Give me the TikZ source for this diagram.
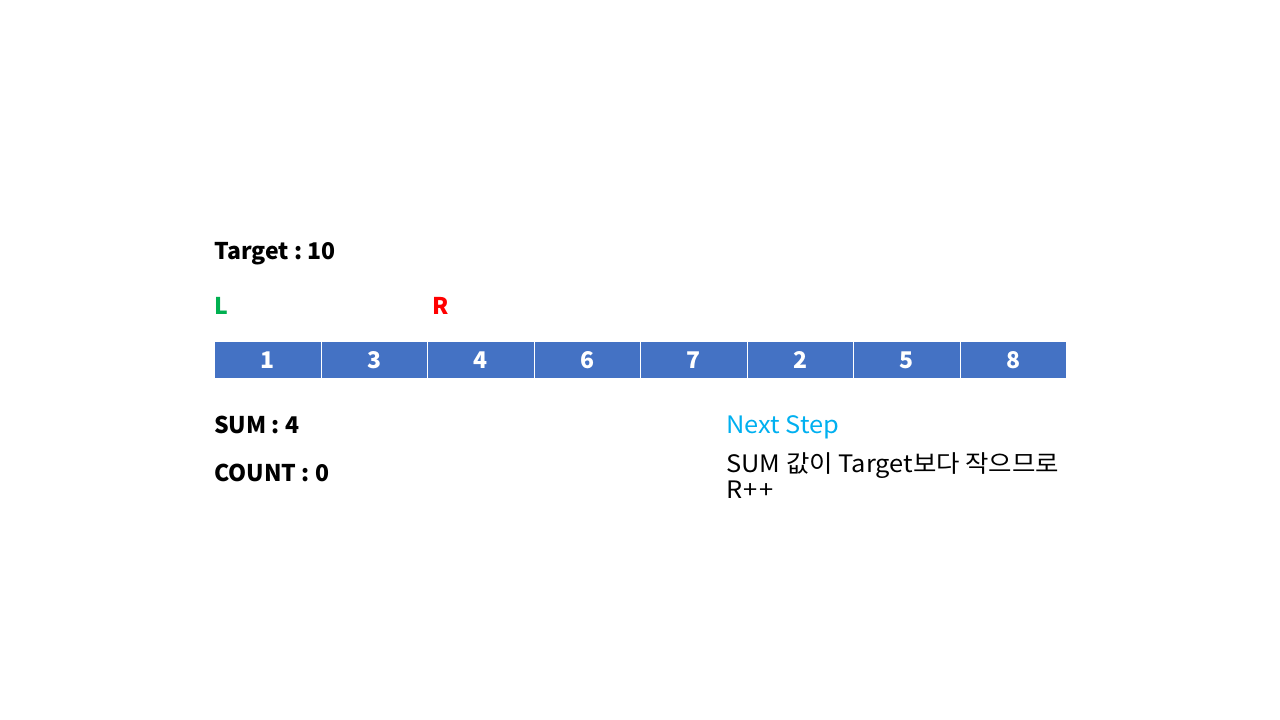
\documentclass[tikz,border=0pt]{standalone}
\usepackage{fontspec}
\setmainfont{Noto Sans CJK KR}
\newfontfamily\widefont[FakeStretch=1.06]{Noto Sans CJK KR}
\definecolor{cellblue}{HTML}{4472C4}
\definecolor{lgreen}{HTML}{00B050}
\definecolor{rred}{HTML}{FF0000}
\definecolor{nextblue}{HTML}{00B0F0}
\tikzset{
  lbl/.style={anchor=base west, inner sep=0pt, font=\widefont\fontsize{24}{29}\selectfont},
  blbl/.style={anchor=base west, inner sep=0pt, font=\fontsize{23}{28}\selectfont\bfseries},
  cell/.style={draw=white, line width=1pt, fill=cellblue, minimum width=106.5pt, minimum height=37pt, inner sep=0pt, anchor=north west, text=white, font=\fontsize{23}{28}\selectfont\bfseries}
}
\begin{document}
\begin{tikzpicture}[x=1pt,y=-1pt]
\useasboundingbox (0,0) rectangle (1280,720);
\fill[white] (0,0) rectangle (1280,720);
\node[blbl] (target) at (214,259) {Target :\ 10};
\node[blbl, text=lgreen] (L) at (214,314) {L};
\node[blbl, text=rred] (R) at (432,314) {R};
\foreach \v [count=\i from 0] in {1,3,4,6,7,2,5,8} {
  \node[cell] (c\i) at ({214+106.5*\i},341) {\v};
}
\node[blbl] (sum) at (214,433) {SUM : 4};
\node[blbl] (count) at (214,481) {COUNT : 0};
\node[lbl, text=nextblue] (next) at (726,433) {Next Step};
\node[lbl] (desc1) at (726,472) {SUM 값이 Target보다 작으므로};
\node[lbl] (desc2) at (726,498) {R\kern1.5pt+\kern1.5pt+};
\end{tikzpicture}
\end{document}
